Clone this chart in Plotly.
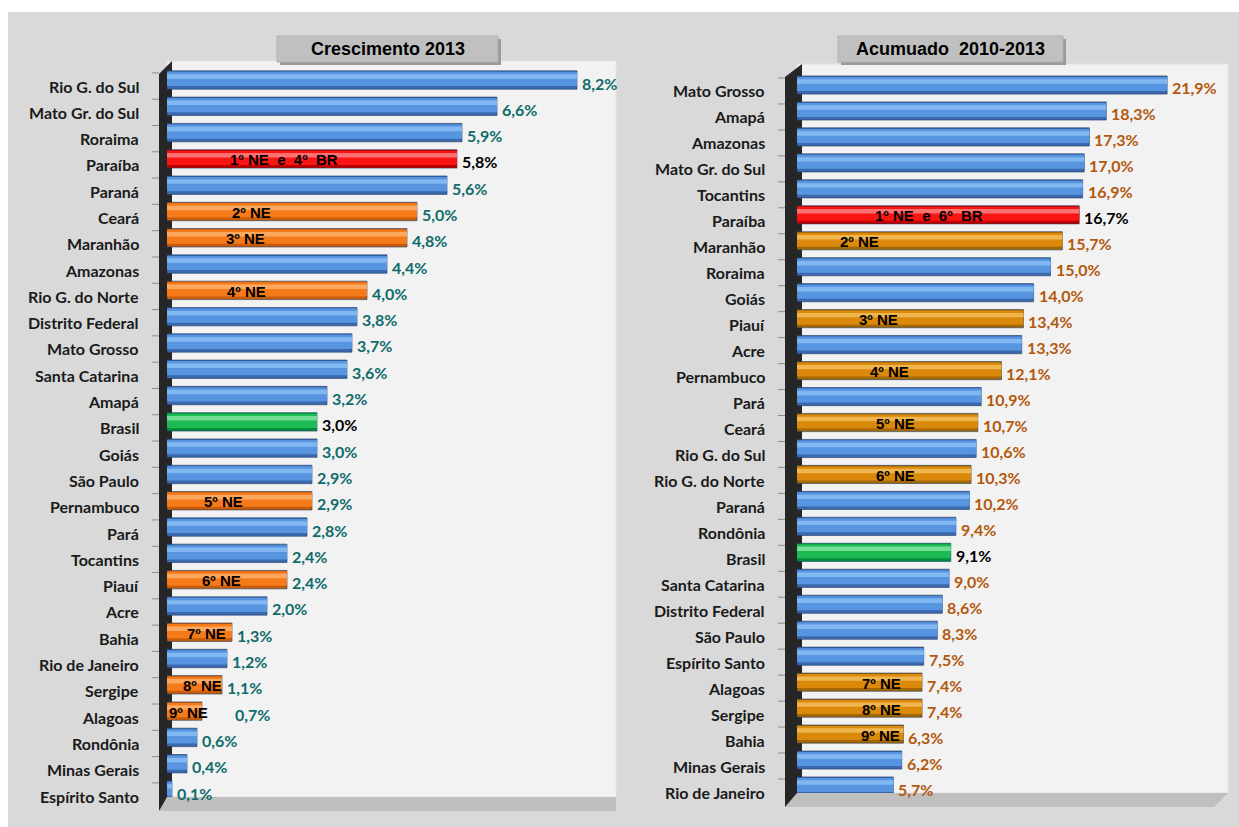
import plotly.graph_objects as go

W, H = 1239, 827

# ---------------- data ----------------
left_states = ["Rio G. do Sul", "Mato Gr. do Sul", "Roraima", "Paraíba", "Paraná", "Ceará",
               "Maranhão", "Amazonas", "Rio G. do Norte", "Distrito Federal", "Mato Grosso",
               "Santa Catarina", "Amapá", "Brasil", "Goiás", "São Paulo", "Pernambuco", "Pará",
               "Tocantins", "Piauí", "Acre", "Bahia", "Rio de Janeiro", "Sergipe", "Alagoas",
               "Rondônia", "Minas Gerais", "Espírito Santo"]
left_values = [8.2, 6.6, 5.9, 5.8, 5.6, 5.0, 4.8, 4.4, 4.0, 3.8, 3.7, 3.6, 3.2, 3.0, 3.0, 2.9,
               2.9, 2.8, 2.4, 2.4, 2.0, 1.3, 1.2, 1.1, 0.7, 0.6, 0.4, 0.1]
left_rank_states = ["Paraíba", "Ceará", "Maranhão", "Rio G. do Norte", "Pernambuco", "Piauí",
                    "Bahia", "Sergipe", "Alagoas"]
left_rank_text = ["1º NE  e  4º  BR", "2º NE", "3º NE", "4º NE", "5º NE", "6º NE", "7º NE",
                  "8º NE", "9º NE"]

right_states = ["Mato Grosso", "Amapá", "Amazonas", "Mato Gr. do Sul", "Tocantins", "Paraíba",
                "Maranhão", "Roraima", "Goiás", "Piauí", "Acre", "Pernambuco", "Pará", "Ceará",
                "Rio G. do Sul", "Rio G. do Norte", "Paraná", "Rondônia", "Brasil",
                "Santa Catarina", "Distrito Federal", "São Paulo", "Espírito Santo", "Alagoas",
                "Sergipe", "Bahia", "Minas Gerais", "Rio de Janeiro"]
right_values = [21.9, 18.3, 17.3, 17.0, 16.9, 16.7, 15.7, 15.0, 14.0, 13.4, 13.3, 12.1, 10.9,
                10.7, 10.6, 10.3, 10.2, 9.4, 9.1, 9.0, 8.6, 8.3, 7.5, 7.4, 7.4, 6.3, 6.2, 5.7]
right_rank_states = ["Paraíba", "Maranhão", "Piauí", "Pernambuco", "Ceará", "Rio G. do Norte",
                     "Alagoas", "Sergipe", "Bahia"]
right_rank_text = ["1º NE  e  6º  BR", "2º NE", "3º NE", "4º NE", "5º NE", "6º NE", "7º NE",
                   "8º NE", "9º NE"]

titles = ["Crescimento 2013", "Acumuado  2010-2013"]

# ---------------- style ----------------
FONT = "Lato"
RANK_FONT = "Liberation Sans"
BLUE = ("#3A69AE", "#5895E0", "#82B8F2")
RED = ("#C00000", "#FA1515", "#FF7070")
GREEN = ("#00903C", "#1CBB55", "#72DE96")
ORANGE_L = ("#C95C08", "#F47A1A", "#FDA860")
ORANGE_R = ("#A56700", "#DA890A", "#EFB650")


def px(x):
    return x / W


def py(y):
    return 1 - y / H


def colors_for(states, rank_states, orange, layer):
    out = []
    for s in states:
        if s == "Brasil":
            c = GREEN
        elif s == "Paraíba":
            c = RED
        elif s in rank_states:
            c = orange
        else:
            c = BLUE
        out.append(c[layer])
    return out


# pixel geometry (window pixels) of the two panels
panels = [
    dict(x0=167, x1=616, wall=159, top=61, floor=797, floor_b=811, c_first=80, c_last=790,
         scale=50.0, right_slant=0),
    dict(x0=797, x1=1228, wall=785, top=64, floor=793, floor_b=807, c_first=85, c_last=786,
         scale=16.9, right_slant=14),
]

fig = go.Figure()
shapes = []
annotations = []

# gray background panel
shapes.append(dict(type="rect", xref="paper", yref="paper", x0=px(8), x1=1.0, y0=0.0,
                   y1=py(12), fillcolor="#D9D9D9", line=dict(width=0), layer="below"))

datasets = [
    (left_states, left_values, left_rank_states, left_rank_text, ORANGE_L, "#0F6B6B",
     [2.34, 1.68, 1.57, 1.58, 1.12, 1.08, 0.78, 0.70, 0.43]),
    (right_states, right_values, right_rank_states, right_rank_text, ORANGE_R, "#B3580C",
     [7.81, 3.67, 4.85, 5.5, 5.8, 5.8, 5.0, 5.0, 4.95]),
]

title_boxes = [(277, 498), (838, 1063)]

for k, (states, values, rstates, rtext, orange, vcol, rank_x) in enumerate(datasets):
    p = panels[k]
    xa = "x" if k == 0 else "x2"
    ya = "y" if k == 0 else "y2"
    n = len(states)
    step = (p["c_last"] - p["c_first"]) / (n - 1)
    r_top = (p["top"] - p["c_first"]) / step
    r_bot = (p["floor"] - p["c_first"]) / step
    xmax = (p["x1"] - p["x0"]) / p["scale"]

    axis_x = dict(domain=[px(p["x0"]), px(p["x1"])], range=[0, xmax], visible=False,
                  fixedrange=True)
    axis_y = dict(domain=[py(p["floor"]), py(p["top"])], type="category",
                  categoryorder="array", categoryarray=states, range=[r_bot, r_top],
                  visible=False, fixedrange=True)
    if k == 0:
        fig.update_layout(xaxis=dict(axis_x, anchor="y"), yaxis=dict(axis_y, anchor="x"))
    else:
        fig.update_layout(xaxis2=dict(axis_x, anchor="y2"), yaxis2=dict(axis_y, anchor="x2"))

    # plot area background, wall, floor
    shapes.append(dict(type="rect", xref="paper", yref="paper", x0=px(p["x0"]), x1=px(p["x1"]),
                       y0=py(p["floor"]), y1=py(p["top"]), fillcolor="#F2F2F2",
                       line=dict(color="#E4E4E4", width=1), layer="below"))
    shapes.append(dict(type="path", xref="paper", yref="paper",
                       path=(f"M {px(p['wall'])},{py(p['top'] + 13)} L {px(p['x0'] + 5)},{py(p['top'])} "
                             f"L {px(p['x0'] + 5)},{py(p['floor'])} L {px(p['wall'])},{py(p['floor_b'])} Z"),
                       fillcolor="#262626", line=dict(width=0), layer="below"))
    shapes.append(dict(type="path", xref="paper", yref="paper",
                       path=(f"M {px(p['wall'])},{py(p['floor_b'])} L {px(p['x0'])},{py(p['floor'])} "
                             f"L {px(p['x1'])},{py(p['floor'])} "
                             f"L {px(p['x1'] - p['right_slant'])},{py(p['floor_b'])} Z"),
                       fillcolor="#BFBFBF", line=dict(width=0), layer="below"))
    # tick marks on the wall
    for i in range(n + 1):
        shapes.append(dict(type="line", xref="paper", yref=ya, x0=px(p["wall"] - 7),
                           x1=px(p["wall"]), y0=i - 0.27, y1=i - 0.27,
                           line=dict(color="#8C8C8C", width=1)))

    # cylinder-like bars: dark body, main body, highlight
    specs = [(0, -0.35, 0.70, dict(color="#1F3A66", width=0.6)),
             (1, -0.31, 0.54, dict(width=0)),
             (2, -0.22, 0.17, dict(width=0))]
    for layer, off, wd, line in specs:
        fig.add_trace(go.Bar(
            x=values, y=states, orientation="h", xaxis=xa, yaxis=ya,
            marker=dict(color=colors_for(states, rstates, orange, layer), line=line),
            width=wd, offset=off, hoverinfo="skip", showlegend=False))

    # category labels
    for s in states:
        annotations.append(dict(xref="paper", yref=ya, x=px(p["wall"] - 18), y=s,
                                xanchor="right", yanchor="middle", yshift=-6, showarrow=False,
                                text=f"<b>{s}</b>",
                                font=dict(family=FONT, size=16, color="#1A1A1A")))
    # value labels
    for s, v in zip(states, values):
        c = "#000000" if s in ("Paraíba", "Brasil") else vcol
        xv = v
        if k == 0 and s == "Alagoas":
            xv = 1.25
        annotations.append(dict(xref=xa, yref=ya, x=xv, y=s, xanchor="left", yanchor="middle",
                                xshift=3, yshift=-3, showarrow=False,
                                text=f"<b>{v:.1f}%</b>".replace(".", ","),
                                font=dict(family=FONT, size=16, color=c)))
    # rank labels inside bars
    for s, t, xr in zip(rstates, rtext, rank_x):
        annotations.append(dict(xref=xa, yref=ya, x=xr, y=s, xanchor="center",
                                yanchor="middle", yshift=-1, showarrow=False,
                                text=f"<b>{t}</b>",
                                font=dict(family=RANK_FONT, size=15, color="#000000")))

    # title box with shadow
    bx0, bx1 = title_boxes[k]
    shapes.append(dict(type="rect", xref="paper", yref="paper", x0=px(bx0 + 3), x1=px(bx1 + 3),
                       y0=py(65), y1=py(39), fillcolor="#9A9A9A", line=dict(width=0),
                       layer="above"))
    shapes.append(dict(type="rect", xref="paper", yref="paper", x0=px(bx0), x1=px(bx1),
                       y0=py(62), y1=py(36), fillcolor="#C0C0C0",
                       line=dict(color="#B0B0B0", width=1), layer="above"))
    annotations.append(dict(xref="paper", yref="paper", x=px((bx0 + bx1) / 2), y=py(49),
                            xanchor="center", yanchor="middle", showarrow=False,
                            text=f"<b>{titles[k]}</b>",
                            font=dict(family="Liberation Sans", size=18, color="#000000")))

fig.update_layout(
    width=W, height=H, margin=dict(l=0, r=0, t=0, b=0),
    paper_bgcolor="#FFFFFF", plot_bgcolor="rgba(0,0,0,0)",
    barmode="overlay", showlegend=False,
    shapes=shapes, annotations=annotations,
)

fig.write_html("out.html", config={"displayModeBar": False},
               post_script="document.body.style.margin='0';document.body.style.overflow='hidden';")
